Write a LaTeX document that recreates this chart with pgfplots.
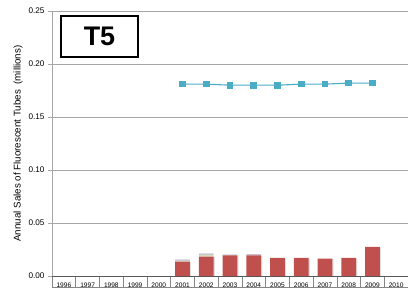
\documentclass[border=0pt]{standalone}
\usepackage{pgfplots}
\pgfplotsset{compat=1.18}
\usetikzlibrary{shadows}
\usepackage{fontspec}
\setmainfont{Liberation Sans}
\definecolor{barred}{HTML}{C0504D}
\definecolor{bargreen}{HTML}{D3DDB8}
\definecolor{barpurple}{HTML}{A898C4}
\definecolor{lineblue}{HTML}{4BACC6}
\definecolor{gridgray}{HTML}{A6A6A6}
\begin{document}
\begin{tikzpicture}
\begin{axis}[
  name=ax,
  scale only axis, width=356bp, height=265bp,
  ybar stacked, bar width=14.7bp,
  xmin=-0.5, xmax=14.5,
  ymin=0, ymax=0.25,
  xtick={0,...,14},
  xticklabels={1996,1997,1998,1999,2000,2001,2002,2003,2004,2005,2006,2007,2008,2009,2010},
  xticklabel style={font=\fontsize{6.6}{7}\selectfont, yshift=1bp},
  minor xtick={-0.5,0.5,...,14.5},
  xtick style={draw=none},
  minor x tick style={draw=gridgray!80!black, line width=0.6bp},
  minor tick length=11bp,
  major tick length=4bp,
  tick align=outside,
  ytick={0,0.05,...,0.25},
  yticklabel style={font=\fontsize{8.2}{9}\selectfont, /pgf/number format/.cd, fixed, fixed zerofill, precision=2},
  /pgf/number format/assume math mode=true,
  y tick style={draw=gridgray, line width=0.8bp},
  ymajorgrids, grid style={gridgray, line width=0.9bp},
  axis x line*=bottom, axis y line*=left,
  x axis line style={draw=black!65, line width=0.9bp, -},
  y axis line style={draw=gridgray, line width=0.9bp, -},
  ylabel={Annual Sales of Fluorescent Tubes\ \ (millions)},
  ylabel style={font=\fontsize{9.8}{11}\selectfont, yshift=-1bp},
  clip=false,
]
\addplot[fill=barred, draw=none, drop shadow={shadow xshift=1.3bp, shadow yshift=-0.6bp, fill=black, opacity=0.12}] coordinates {
 (5,0.0135) (6,0.0183) (7,0.0195) (8,0.0195) (9,0.0170)
 (10,0.0170) (11,0.0163) (12,0.0170) (13,0.0274)};
\addplot[fill=bargreen, draw=none] coordinates {
 (5,0.0010) (6,0.0018) (7,0.0003) (8,0.0003) (9,0) (10,0) (11,0) (12,0) (13,0)};
\addplot[fill=barpurple, draw=none] coordinates {
 (5,0.0010) (6,0.0010) (7,0.0003) (8,0.0005) (9,0) (10,0) (11,0) (12,0) (13,0)};
\end{axis}
\begin{axis}[
  scale only axis, width=356bp, height=265bp,
  xmin=-0.5, xmax=14.5, ymin=0, ymax=0.25,
  hide axis,
]
\addplot[lineblue, line width=1.1bp, mark=square*, mark size=2.8bp,
  mark options={fill=lineblue, draw=lineblue}] coordinates {
 (5,0.181) (6,0.181) (7,0.180) (8,0.180) (9,0.180)
 (10,0.181) (11,0.181) (12,0.182) (13,0.182)};
\end{axis}
\draw[gridgray!80!black, line width=0.6bp] ([yshift=-11bp]ax.south west) -- ([yshift=-11bp]ax.south east);
\node[draw=black, line width=1.4bp, minimum width=77bp, minimum height=41bp, inner sep=0pt,
  font=\fontsize{27}{30}\selectfont\bfseries] at ([shift={(47.5bp,-25.5bp)}]ax.north west) {T5};
\pgfresetboundingbox
\path ([shift={(-52bp,-13bp)}]ax.south west) rectangle ([shift={(0bp,11bp)}]ax.north east);
\end{tikzpicture}
\end{document}
